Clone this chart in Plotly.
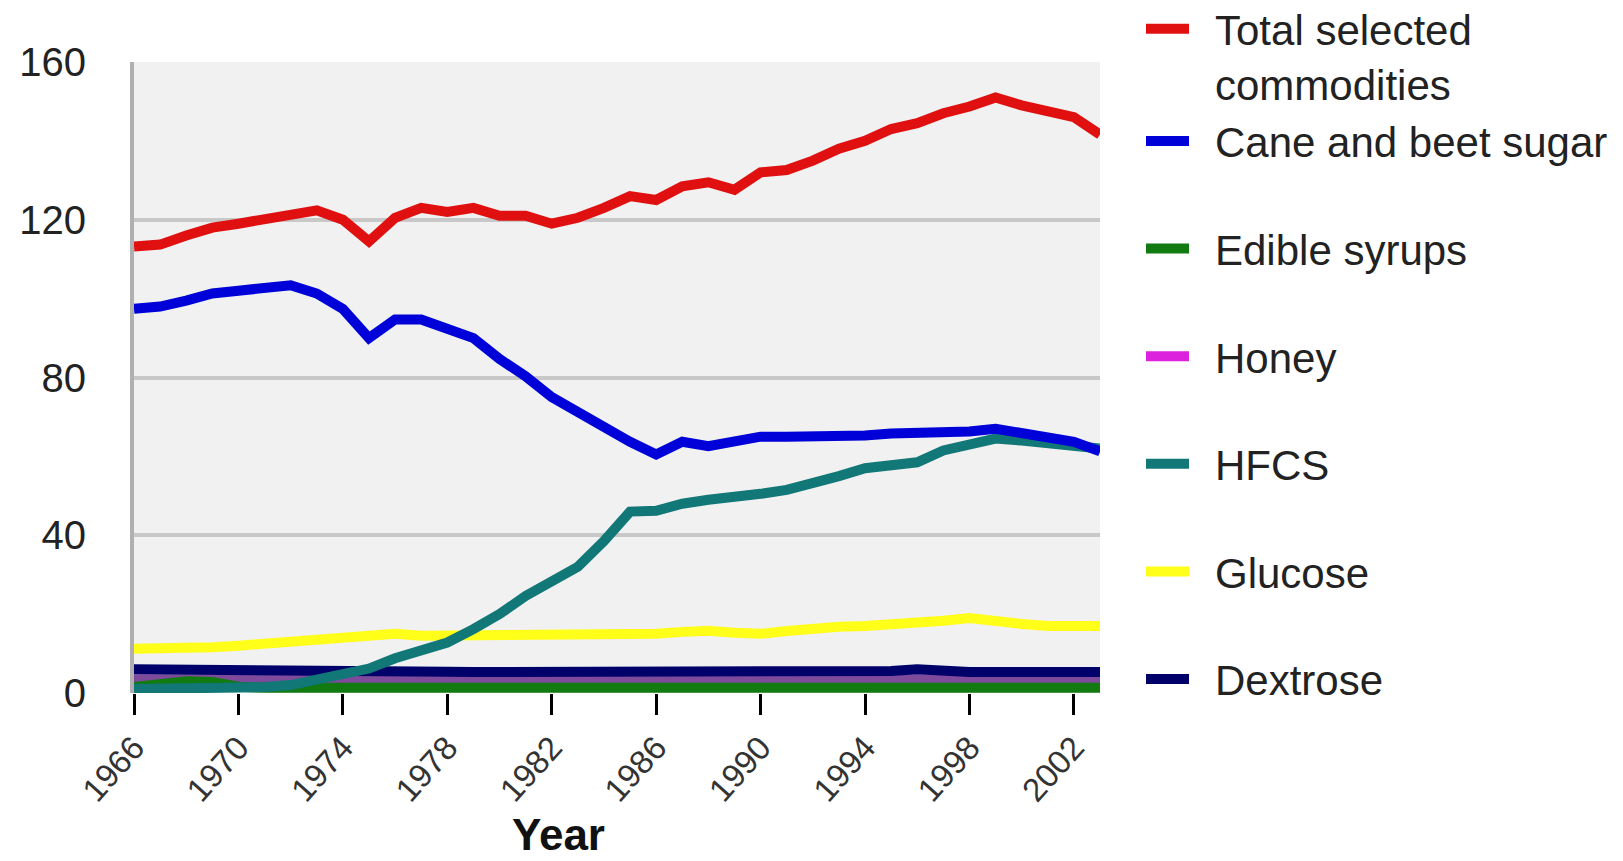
import plotly.graph_objects as go

years = list(range(1966, 2004))

total = [113.2, 113.7, 116.0, 118.0, 119.0, 120.0, 121.0, 122.4, 120.0, 114.5,
         120.5, 123.0, 122.0, 123.0, 121.0, 121.0, 119.0, 120.5, 123.0, 126.0,
         125.0, 128.5, 129.5, 127.6, 132.0, 132.6, 135.0, 138.0, 140.0, 143.0,
         144.5, 147.0, 148.7, 151.0, 149.0, 147.4, 146.0, 141.6]
cane_beet = [97.4, 98.0, 99.5, 101.3, 102.0, 102.6, 103.4, 101.3, 97.4, 90.0,
             94.7, 94.7, 92.6, 90.0, 84.7, 80.3, 75.0, 71.0, 67.6, 63.7,
             60.5, 63.7, 62.6, 64.0, 65.0, 65.0, 65.0, 65.0, 65.3, 65.8,
             65.8, 65.8, 66.3, 67.0, 65.8, 65.0, 63.7, 61.3]
edible_syrups = [1.5, 2.3, 3.0, 2.8, 1.6, 1.3, 1.3, 1.3, 1.3, 1.3,
                 1.3, 1.3, 1.3, 1.3, 1.3, 1.3, 1.3, 1.3, 1.3, 1.3,
                 1.3, 1.3, 1.3, 1.3, 1.3, 1.3, 1.3, 1.3, 1.3, 1.3,
                 1.3, 1.3, 1.3, 1.3, 1.3, 1.3, 1.3, 1.3]
honey = [3.5, 3.5, 3.5, 3.5, 3.5, 3.5, 3.5, 3.5, 3.5, 3.5,
         3.5, 3.5, 3.5, 3.5, 3.5, 3.5, 3.5, 3.5, 3.5, 3.5,
         3.5, 3.5, 3.5, 3.5, 3.5, 3.5, 3.5, 3.5, 3.5, 3.5,
         3.5, 3.5, 3.5, 3.5, 3.5, 3.5, 3.5, 3.5]
hfcs = [1.0, 1.0, 1.1, 1.2, 1.3, 1.5, 2.0, 3.5, 5.0, 6.2,
        8.8, 11.0, 12.8, 16.2, 20.0, 24.6, 28.0, 32.0, 38.5, 46.0,
        46.2, 48.0, 49.0, 49.5, 50.5, 51.5, 53.0, 55.0, 57.0, 58.0,
        58.5, 61.5, 63.0, 64.5, 64.0, 63.5, 63.0, 62.0]
glucose = [11.2, 11.2, 11.4, 11.6, 12.0, 12.5, 13.0, 14.0, 14.5, 15.0,
           15.0, 14.5, 14.5, 14.8, 15.0, 15.0, 15.0, 15.0, 15.0, 15.0,
           15.0, 15.5, 15.8, 15.3, 15.0, 15.7, 16.5, 16.8, 17.0, 17.3,
           17.8, 18.3, 19.0, 18.0, 17.5, 17.0, 17.0, 17.0]
dextrose = [6.0, 6.0, 6.0, 6.0, 6.0, 6.0, 6.0, 5.9, 5.8, 5.7,
            5.6, 5.5, 5.4, 5.3, 5.3, 5.3, 5.3, 5.3, 5.3, 5.3,
            5.3, 5.3, 5.3, 5.3, 5.3, 5.3, 5.3, 5.3, 5.3, 5.6,
            6.0, 5.5, 5.3, 5.3, 5.3, 5.3, 5.3, 5.3]

x_ticks = list(range(1966, 2003, 4))
y_ticks = [0, 40, 80, 120, 160]

FONT = "Liberation Sans, Arial, sans-serif"
LW = 10
PAD = "\u2002"  # gap between legend sample and label

# plot-area geometry in pixels (used only to place the legend / axis title)
PL, PT, PW, PH = 126, 54, 966, 631

fig = go.Figure()

# drawing order (bottom to top); legend order set with legendrank
fig.add_trace(go.Scatter(x=years, y=honey, name=PAD + "Honey", mode="lines",
                         line=dict(color="#7d4a9c", width=LW), legendrank=4,
                         legendgroup="d", showlegend=False))
fig.add_trace(go.Scatter(x=[None], y=[None], name=PAD + "Honey", mode="lines",
                         line=dict(color="#dd22dd", width=LW), legendrank=4, legendgroup="d"))
fig.add_trace(go.Scatter(x=years, y=edible_syrups, name=PAD + "Edible syrups", mode="lines",
                         line=dict(color="#117a11", width=LW), legendrank=3, legendgroup="c"))
fig.add_trace(go.Scatter(x=years, y=dextrose, name=PAD + "Dextrose", mode="lines",
                         line=dict(color="#00006a", width=LW), legendrank=7, legendgroup="g"))
fig.add_trace(go.Scatter(x=years, y=glucose, name=PAD + "Glucose", mode="lines",
                         line=dict(color="#ffff1a", width=LW), legendrank=6, legendgroup="f"))
fig.add_trace(go.Scatter(x=years, y=hfcs, name=PAD + "HFCS", mode="lines",
                         line=dict(color="#117777", width=LW), legendrank=5, legendgroup="e"))
fig.add_trace(go.Scatter(x=years, y=cane_beet, name=PAD + "Cane and beet sugar", mode="lines",
                         line=dict(color="#0000d8", width=LW), legendrank=2, legendgroup="a"))
fig.add_trace(go.Scatter(x=years, y=total, name=PAD + "Total selected<br>" + PAD + "commodities",
                         mode="lines", line=dict(color="#e01010", width=LW),
                         legendrank=1, legendgroup="a"))

fig.update_layout(
    width=1623, height=861,
    margin=dict(l=PL, r=1623 - PL - PW, t=PT, b=861 - PT - PH, autoexpand=False),
    paper_bgcolor="white",
    plot_bgcolor="#f1f1f1",
    font=dict(family=FONT, size=40, color="#222222"),
    showlegend=True,
    legend=dict(
        xref="paper", yref="paper",
        x=(1133 - PL) / PW, xanchor="left",
        y=(PT + PH + 13) / PH, yanchor="top",
        font=dict(family=FONT, size=42, color="#222222"),
        valign="top",
        tracegroupgap=50,
        bgcolor="rgba(0,0,0,0)",
        itemwidth=43,
        maxheight=1.0,
    ),
    xaxis=dict(
        range=[1966, 2003],
        tickvals=x_ticks,
        ticktext=[str(v) for v in x_ticks],
        tickangle=-48,
        ticks="outside", ticklen=21, tickwidth=3, tickcolor="#000000",
        showgrid=False, zeroline=False, showline=False,
        tickfont=dict(family=FONT, size=33, color="#333333"),
        ticklabelstandoff=0,
        automargin=False,
    ),
    yaxis=dict(
        range=[0, 160],
        tickvals=y_ticks,
        showgrid=True, gridcolor="#c8c8c8", gridwidth=4,
        zeroline=False,
        showline=True, linecolor="#b0b0b0", linewidth=4,
        ticks="", ticklabelstandoff=36,
        tickfont=dict(family=FONT, size=40, color="#222222"),
        automargin=False,
    ),
    annotations=[dict(
        text="<b>Year</b>", xref="paper", yref="paper",
        x=(550 - PL) / PW, y=(PT + PH - 853) / PH,
        xanchor="center", yanchor="bottom", showarrow=False,
        font=dict(family=FONT, size=44, color="#111111"),
    )],
)

fig.write_html("out.html")
